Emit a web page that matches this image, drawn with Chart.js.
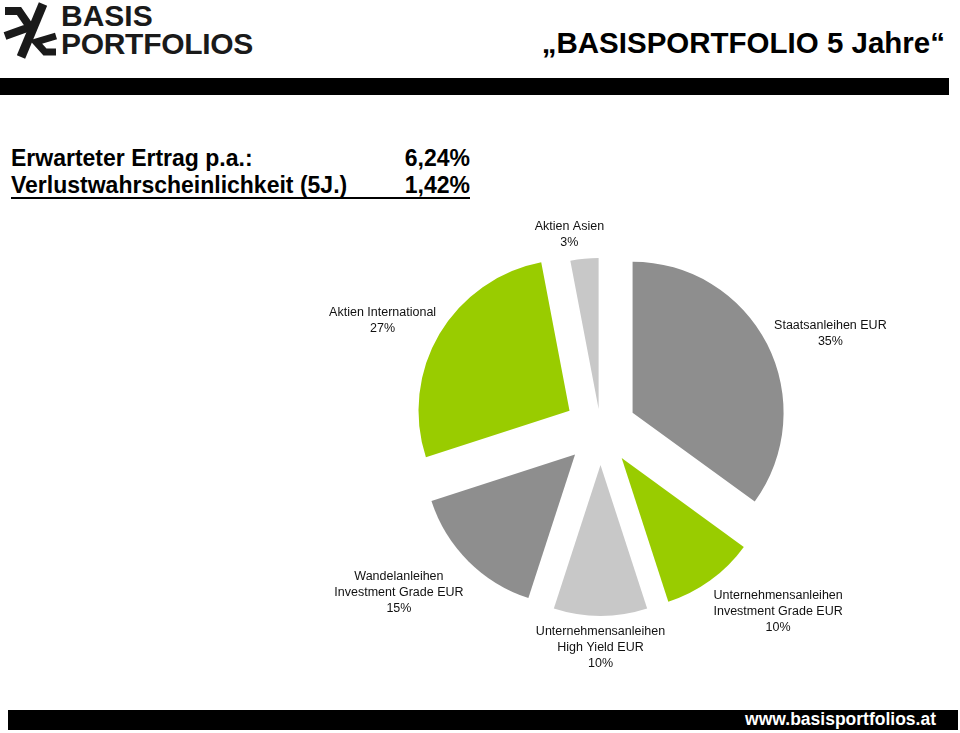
<!DOCTYPE html>
<html>
<head>
<meta charset="utf-8">
<script src="https://cdn.jsdelivr.net/npm/chart.js@4/dist/chart.umd.min.js"></script>
<style>
  body { margin: 0; background: #fff; font-family: "Liberation Sans", Arial, sans-serif; }
  #page { position: relative; width: 960px; height: 733px; overflow: hidden; }
  .abs { position: absolute; white-space: nowrap; }
  .stat { font-size: 23px; line-height: 23px; font-weight: bold; }
  #chart { position: absolute; left: 0; top: 200px; }
</style>
</head>
<body>
<div id="page">
  <!-- logo -->
  <svg class="abs" style="left:0;top:0" width="62" height="62" viewBox="0 0 62 62">
    <path d="M5 11 L19 11 L30 27 L5 36" fill="none" stroke="#1a1a1a" stroke-width="8" stroke-linejoin="miter"/>
    <path d="M43 4 L21 57" fill="none" stroke="#1a1a1a" stroke-width="9"/>
    <path d="M56 36 L36 42 L45 52 L56 52" fill="none" stroke="#1a1a1a" stroke-width="7" stroke-linejoin="miter"/>
  </svg>
  <div class="abs" style="left:61px;top:1px;font-size:30px;line-height:30px;font-weight:bold;color:#1a1a1a">BASIS</div>
  <div class="abs" style="left:61px;top:29px;font-size:30px;line-height:30px;font-weight:bold;color:#1a1a1a;letter-spacing:-0.3px">PORTFOLIOS</div>

  <div class="abs" style="right:15px;top:28px;font-size:29.5px;line-height:29.5px;font-weight:bold">„BASISPORTFOLIO 5 Jahre“</div>
  <div class="abs" style="left:0;top:78px;width:949px;height:17px;background:#000"></div>

  <div class="abs stat" style="left:11px;top:147px">Erwarteter Ertrag p.a.:</div>
  <div class="abs stat" style="left:11px;top:147px;width:459px;text-align:right">6,24%</div>
  <div class="abs stat" style="left:11px;top:174px">Verlustwahrscheinlichkeit (5J.)</div>
  <div class="abs stat" style="left:11px;top:174px;width:459px;text-align:right">1,42%</div>
  <div class="abs" style="left:11px;top:197px;width:459px;height:2px;background:#000"></div>

  <canvas id="chart" width="960" height="490"></canvas>

  <div class="abs" style="left:8px;top:710px;width:950px;height:20px;background:#000"></div>
  <div class="abs" style="right:24px;top:711px;font-size:17.5px;line-height:17.5px;font-weight:bold;color:#fff">www.basisportfolios.at</div>
</div>

<script>
// Portfolio weights (%), clockwise from 12 o'clock
const categories = [
  ["Staatsanleihen EUR"],
  ["Unternehmensanleihen", "Investment Grade EUR"],
  ["Unternehmensanleihen", "High Yield EUR"],
  ["Wandelanleihen", "Investment Grade EUR"],
  ["Aktien International"],
  ["Aktien Asien"]
];
const weights = [35, 10, 10, 15, 27, 3];
const sliceColors = ["#8e8e8e", "#99cc00", "#c8c8c8", "#8e8e8e", "#99cc00", "#c8c8c8"];

// pulled-out slices + outside labels
const explodedLabels = {
  id: "explodedLabels",
  beforeDatasetsDraw(chart, args, opts) {
    const area = chart.chartArea;
    const cx = (area.left + area.right) / 2;
    const cy = (area.top + area.bottom) / 2;
    chart.getDatasetMeta(0).data.forEach((arc, i) => {
      const mid = (arc.startAngle + arc.endAngle) / 2;
      arc.x = cx + Math.cos(mid) * opts.explode[i];
      arc.y = cy + Math.sin(mid) * opts.explode[i];
    });
  },
  afterDatasetsDraw(chart, args, opts) {
    const ctx = chart.ctx;
    const lh = opts.lineHeight;
    ctx.save();
    ctx.font = opts.font;
    ctx.fillStyle = "#111";
    ctx.textAlign = "center";
    ctx.textBaseline = "middle";
    chart.getDatasetMeta(0).data.forEach((arc, i) => {
      const lines = categories[i].concat(weights[i] + "%");
      const mid = (arc.startAngle + arc.endAngle) / 2;
      const dx = Math.cos(mid), dy = Math.sin(mid);
      const halfW = Math.max(...lines.map(l => ctx.measureText(l).width)) / 2;
      const halfH = lines.length * lh / 2;
      const r = arc.outerRadius + opts.gap;
      const x = arc.x + dx * r + dx * halfW + opts.nudge[i][0];
      const y = arc.y + dy * r + dy * halfH + opts.nudge[i][1];
      lines.forEach((l, k) => ctx.fillText(l, x, y - halfH + lh * (k + 0.5)));
    });
    ctx.restore();
  }
};

new Chart(document.getElementById("chart"), {
  type: "pie",
  data: {
    labels: categories,
    datasets: [{
      data: weights,
      backgroundColor: sliceColors,
      borderWidth: 0,
      hoverBorderWidth: 0,
      hoverOffset: 0,
      radius: 151
    }]
  },
  options: {
    responsive: false,
    animation: false,
    events: [],
    layout: { padding: { left: 441, right: 200, top: 60, bottom: 92 } },
    plugins: {
      legend: { display: false },
      tooltip: { enabled: false },
      explodedLabels: {
        explode: [36, 36, 36, 36, 36, 20],
        gap: 8,
        lineHeight: 16,
        font: '12.5px "Liberation Sans", Arial, sans-serif',
        nudge: [[6, 0], [25, 5], [0, 0], [-18, 9], [-4, -1], [-11, 0]]
      }
    }
  },
  plugins: [explodedLabels]
});
</script>
</body>
</html>
